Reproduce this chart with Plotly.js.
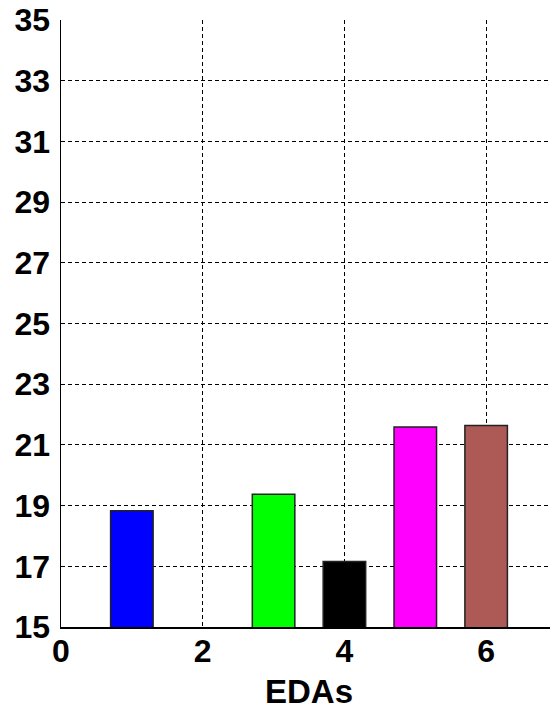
<!DOCTYPE html>
<html>
<head>
<meta charset="utf-8">
<script src="https://cdn.plot.ly/plotly-3.0.1.min.js"></script>
<style>
html,body{margin:0;padding:0;overflow:hidden;background:#fff;width:550px;height:710px;}
#chart{width:560px;height:710px;}
</style>
</head>
<body>
<div id="chart"></div>
<script>
// Data
const edaIndex = [1, 2, 3, 4, 5, 6];
const edaValues = [18.83, null, 19.37, 17.16, 21.59, 21.64]; // EDA 2 lies below the axis floor (not visible)
const barColors = ['#0000ff', '#ffffff', '#00ff00', '#000000', '#ff00ff', '#ad5a56'];
const xTicks = [0, 2, 4, 6];
const yTicks = [15, 17, 19, 21, 23, 25, 27, 29, 31, 33, 35];

const fontFam = '"Liberation Sans", Arial, Helvetica, sans-serif';

const trace = {
  type: 'bar',
  x: edaIndex,
  y: edaValues,
  width: 0.6,
  marker: {color: barColors, line: {color: '#222222', width: 1.5}},
  hoverinfo: 'none'
};

const layout = {
  width: 560,
  height: 710,
  margin: {l: 61, r: 3, t: 20, b: 83},
  paper_bgcolor: '#ffffff',
  plot_bgcolor: '#ffffff',
  showlegend: false,
  font: {family: fontFam, color: '#000', size: 33, weight: 'bold'},
  xaxis: {
    range: [0, 7],
    tickvals: xTicks,
    ticktext: xTicks.map(String),
    tickfont: {family: fontFam, size: 32, color: '#000', weight: 'bold'},
    ticks: '', ticklabelstandoff: -5,
    showgrid: true, gridcolor: '#000', gridwidth: 1, griddash: '4px,3px',
    zeroline: false,
    showline: true, linecolor: '#000', linewidth: 1.5, mirror: false,
    title: {text: 'EDAs', font: {family: fontFam, size: 33, color: '#000', weight: 'bold'}, standoff: 14},
    fixedrange: true
  },
  yaxis: {
    range: [15, 35],
    tickvals: yTicks,
    ticktext: yTicks.map(String),
    tickfont: {family: fontFam, size: 32, color: '#000', weight: 'bold'},
    ticks: 'outside', ticklen: 3, tickcolor: 'rgba(0,0,0,0)',
    showgrid: true, gridcolor: '#000', gridwidth: 1, griddash: '4px,3px',
    zeroline: false,
    showline: true, linecolor: '#000', linewidth: 1.5, mirror: false,
    fixedrange: true
  }
};

Plotly.newPlot('chart', [trace], layout, {displayModeBar: false, staticPlot: true});
</script>
</body>
</html>
